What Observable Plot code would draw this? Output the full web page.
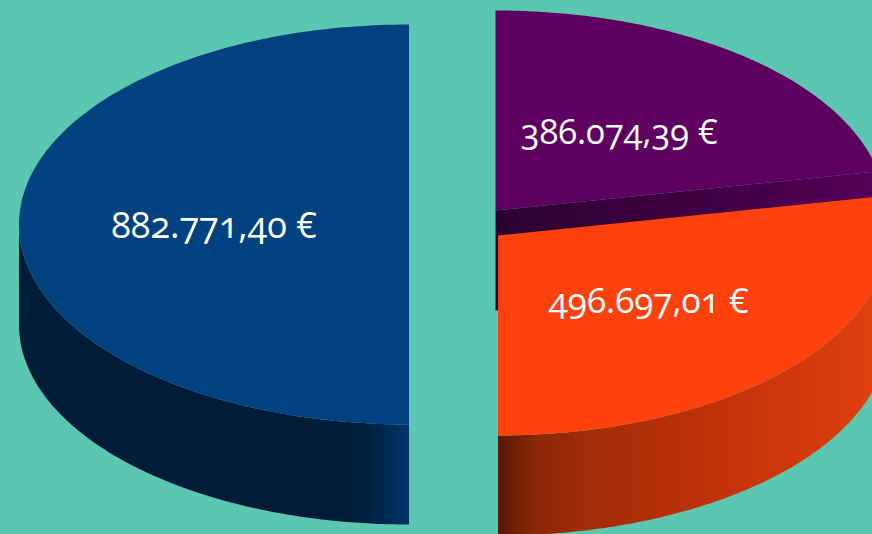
<!DOCTYPE html>
<html>
<head>
<meta charset="utf-8">
<script src="https://cdn.jsdelivr.net/npm/d3@7"></script>
<script src="https://cdn.jsdelivr.net/npm/@observablehq/plot@0.6"></script>
<style>
html,body{margin:0;padding:0;background:#5cc7b0;overflow:hidden}
svg{display:block;background:#5cc7b0}
text{font-feature-settings:"onum" 1}
g[aria-label="line"]{filter:blur(0.5px)}
</style>
</head>
<body>
<div id="chart"></div>
<script>
// Data
const names  = ["blue", "purple", "orange"];
const values = [882771.40, 386074.39, 496697.01];
const labels = ["882.771,40 €", "386.074,39 €", "496.697,01 €"];
const topColors = ["#00427f", "#5e0060", "#ff410d"];

// Layout of the exploded 3D pie (in chart units)
const rx = 390, ry = 200, depth = 100;
const centers = {blue: [408.5, 224], purple: [495, 210], orange: [497.5, 235]};
const labelStyle = {blue: {size: 36, dy: 2}, purple: {size: 34.5, dy: 0}, orange: {size: 35, dy: 3}};
const order = ["purple", "orange", "blue"];

const total = d3.sum(values);
const start = {};
let acc = 0;
for (const n of order) {
  const v = values[names.indexOf(n)];
  start[n] = [acc / total * 2 * Math.PI, (acc + v) / total * 2 * Math.PI];
  acc += v;
}
const at = (n, a, f = 1, dy = 0) => ({
  x: centers[n][0] + f * rx * Math.sin(a),
  y: centers[n][1] - f * ry * Math.cos(a) + dy
});
const arc = (n, a0, a1, dy = 0, steps = 160) =>
  d3.range(steps + 1).map(i => at(n, a0 + (a1 - a0) * i / steps, 1, dy));

const topFace = n => {
  const [a0, a1] = start[n];
  return [at(n, 0, 0), ...arc(n, a0, a1)];
};
const sideWall = (n, a0, a1) => [...arc(n, a0, a1), ...arc(n, a1, a0, depth)];
const cutWall = n => {
  const a = start[n][1];
  return [at(n, 0, 0), at(n, a), at(n, a, 1, depth), at(n, 0, 0, depth)];
};

const shape = (pts, fill) => Plot.line(pts, {x: "x", y: "y", fill, stroke: "none", curve: "linear"});

const gradient = (id, x1, x2, stops) => () => {
  const d = d3.create("svg:defs");
  const g = d.append("linearGradient").attr("id", id)
    .attr("gradientUnits", "userSpaceOnUse")
    .attr("x1", x1).attr("x2", x2).attr("y1", 0).attr("y2", 0);
  for (const [o, c] of stops) g.append("stop").attr("offset", o).attr("stop-color", c);
  return d.node();
};

const labelPoints = order.map(n => {
  const [a0, a1] = start[n];
  const p = at(n, (a0 + a1) / 2, 0.5, labelStyle[n].dy);
  return {x: p.x, y: p.y, size: labelStyle[n].size, label: labels[names.indexOf(n)]};
});

const chart = Plot.plot({
  width: 872, height: 534,
  margin: 0,
  style: {background: "#5cc7b0"},
  x: {domain: [0, 872], range: [0, 872], axis: null},
  y: {domain: [0, 534], range: [0, 534], axis: null},
  marks: [
    gradient("gBlue", 330, 408, [[0, "#001c38"], [0.45, "#001f3f"], [0.75, "#002a56"], [1, "#003368"]]),
    gradient("gPurple", 495, 872, [[0, "#2b0030"], [0.5, "#3d0040"], [1, "#530058"]]),
    gradient("gOrange", 497, 872, [[0, "#571a06"], [0.1, "#892606"], [0.25, "#a32c08"], [0.6, "#c2320a"], [1, "#e03f0d"]]),
    shape(sideWall("blue", Math.PI, 1.5 * Math.PI), "url(#gBlue)"),
    shape(topFace("blue"), topColors[0]),
    shape(cutWall("purple"), "url(#gPurple)"),
    shape(topFace("purple"), topColors[1]),
    shape(sideWall("orange", start.orange[0], start.orange[1]), "url(#gOrange)"),
    shape(topFace("orange"), topColors[2]),
    Plot.text(labelPoints, {
      x: "x", y: "y", text: "label", fill: "white",
      fontFamily: "Open Sans", fontSize: d => d.size, textAnchor: "middle", lineAnchor: "middle"
    })
  ]
});
document.getElementById("chart").appendChild(chart);
</script>
</body>
</html>
